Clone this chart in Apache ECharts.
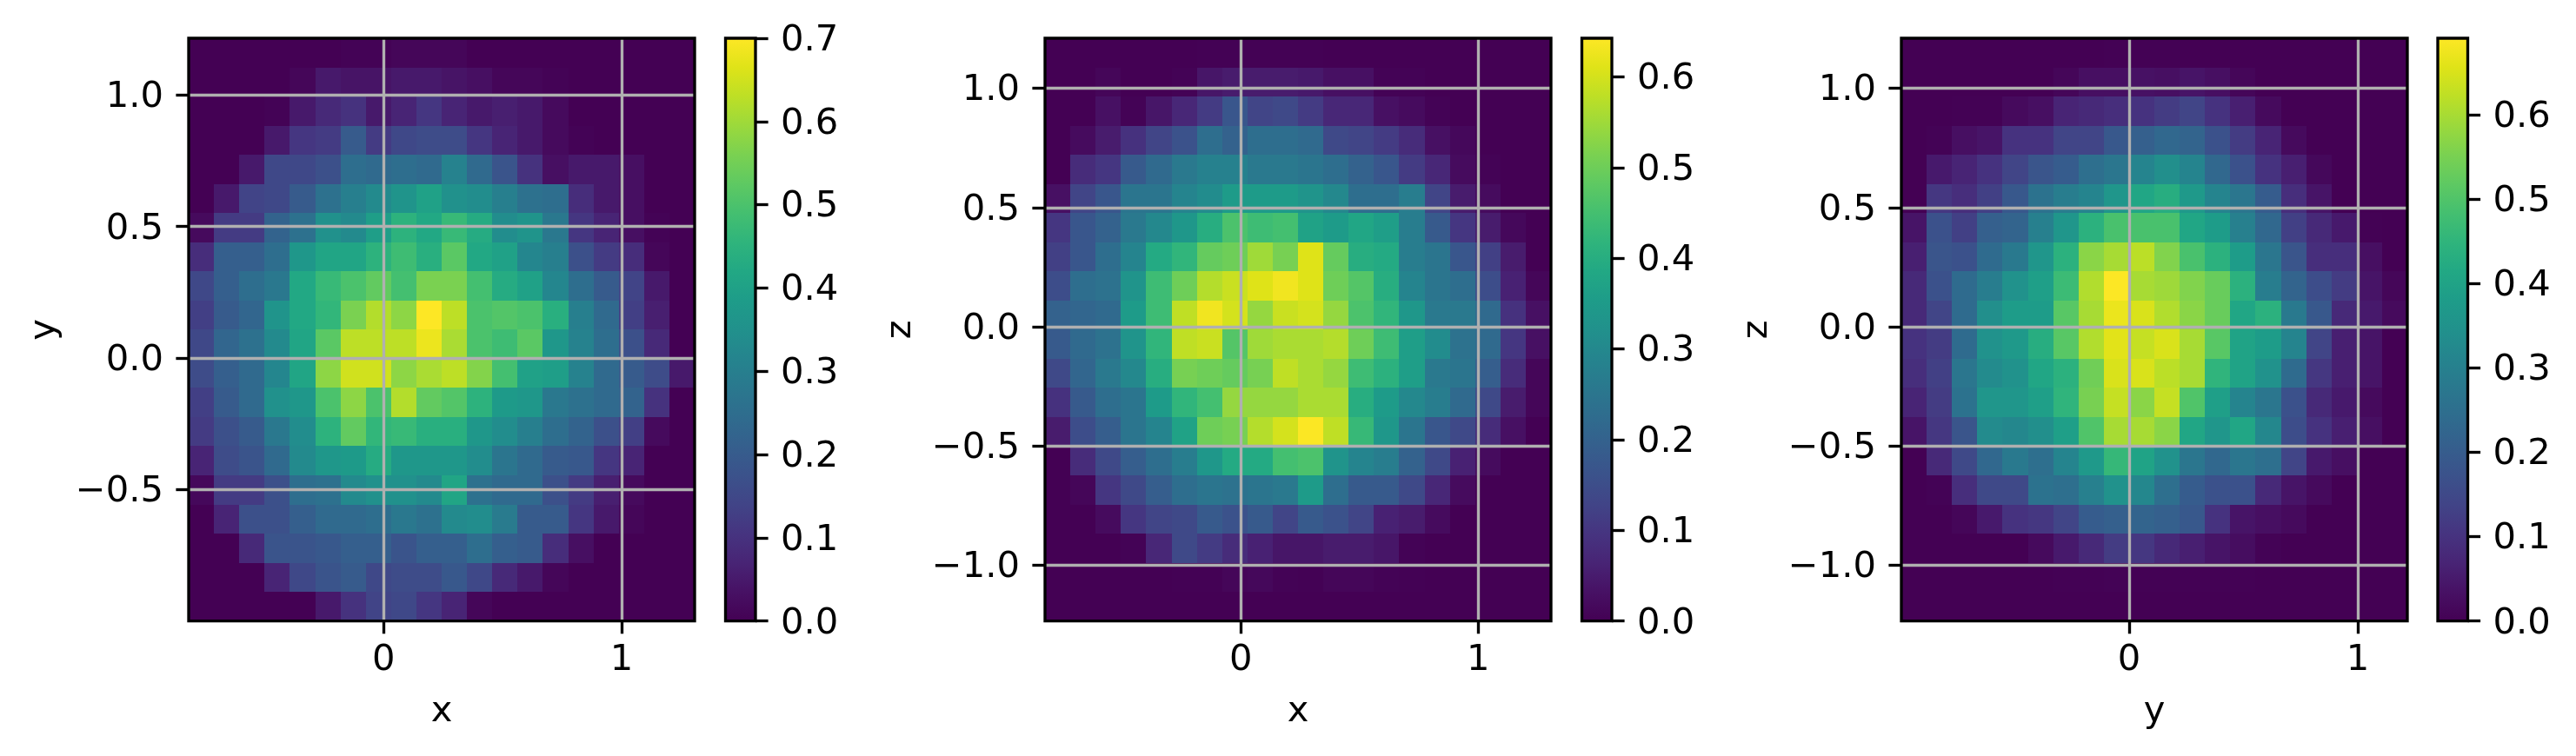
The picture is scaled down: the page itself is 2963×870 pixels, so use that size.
<!DOCTYPE html>
<html lang="en">
<head>
<meta charset="utf-8" />
<style>html,body{margin:0;padding:0;background:#fff}</style>
</head>
<body>
<div id="view1" style="width:2963px;height:870px"></div>
<script src="https://cdn.jsdelivr.net/npm/echarts@6/dist/echarts.min.js"></script>
<script>
// histogram cells, rows listed from the top of each panel to the bottom
var valuesXY = [
[0,0,0,0,0,0,.005,.005,.01,.01,.01,0,0,0,0,0,0,0,0,0],
[0,0,0,0,.01,.05,.04,.04,.05,.05,.04,.03,.01,.01,.005,0,0,0,0,0],
[0,0,0,.005,.05,.08,.10,.05,.07,.11,.07,.05,.06,.05,.02,0,0,0,0,0],
[0,0,0,.05,.11,.12,.20,.12,.15,.16,.16,.11,.07,.05,.02,.005,0,0,0,0],
[0,0,.05,.15,.15,.17,.25,.24,.25,.24,.31,.24,.18,.10,.03,.05,.05,.03,0,0],
[0,.05,.14,.15,.2,.26,.3,.33,.36,.4,.35,.34,.3,.26,.25,.09,.05,.03,0,0],
[.02,.12,.12,.22,.26,.35,.33,.39,.45,.42,.47,.43,.34,.36,.28,.11,.07,.03,.005,0],
[.09,.21,.21,.25,.37,.41,.41,.45,.48,.44,.52,.42,.4,.32,.3,.17,.12,.09,.01,0],
[.15,.21,.25,.28,.42,.47,.5,.53,.49,.56,.56,.49,.43,.4,.32,.25,.2,.14,.05,0],
[.13,.2,.23,.36,.42,.46,.56,.62,.58,.7,.63,.5,.51,.5,.44,.3,.24,.13,.06,0],
[.15,.23,.26,.33,.41,.52,.63,.63,.63,.68,.61,.5,.48,.52,.37,.31,.25,.17,.08,0],
[.16,.21,.24,.32,.41,.58,.65,.65,.58,.61,.63,.57,.49,.4,.39,.31,.24,.2,.16,.05],
[.13,.2,.24,.35,.37,.5,.58,.5,.62,.53,.51,.45,.38,.37,.28,.26,.24,.22,.1,0],
[.12,.17,.2,.28,.34,.45,.53,.46,.47,.44,.44,.37,.34,.3,.25,.22,.17,.13,.02,0],
[.07,.16,.18,.24,.33,.37,.38,.43,.37,.37,.37,.34,.27,.24,.2,.19,.11,.07,0,0],
[.015,.12,.12,.17,.25,.26,.33,.35,.35,.33,.41,.26,.24,.24,.17,.12,.06,.02,0,0],
[0,.07,.17,.17,.21,.24,.24,.25,.28,.26,.33,.34,.29,.2,.2,.11,.05,.01,0,0],
[0,0,.08,.18,.18,.19,.21,.21,.18,.21,.21,.25,.21,.2,.09,.03,0,0,0,0],
[0,0,0,.07,.15,.18,.2,.15,.16,.16,.19,.15,.08,.05,.01,0,0,0,0,0],
[0,0,0,0,0,.05,.1,.14,.15,.11,.07,.01,0,0,0,0,0,0,0,0]
];
var valuesXZ = [
[0,0,0,0,0,0,.002,.002,.003,.003,.003,0,0,0,0,0,0,0,0,0],
[0,0,.01,0,0,.005,.04,.05,.05,.05,.045,.03,.03,.005,.005,0,0,0,0,0],
[0,0,.03,.005,.04,.07,.11,.17,.13,.14,.11,.07,.07,.03,.02,.005,0,0,0,0],
[0,.02,.05,.09,.13,.16,.23,.2,.23,.23,.22,.14,.13,.11,.08,.03,.015,0,0,0],
[0,.08,.1,.18,.22,.26,.28,.28,.26,.26,.25,.23,.2,.17,.11,.07,.02,.005,0,0],
[.03,.13,.17,.25,.25,.29,.31,.35,.35,.35,.33,.3,.23,.23,.27,.13,.05,.02,0,0],
[.1,.17,.2,.26,.3,.34,.4,.46,.44,.45,.37,.35,.38,.36,.27,.18,.1,.05,.015,0],
[.12,.17,.23,.29,.39,.42,.49,.5,.55,.51,.61,.49,.4,.39,.27,.25,.17,.12,.05,0],
[.15,.23,.24,.33,.44,.5,.57,.59,.61,.63,.61,.5,.47,.4,.29,.25,.23,.15,.06,.01],
[.2,.21,.22,.35,.44,.58,.63,.6,.54,.59,.6,.54,.46,.42,.34,.26,.26,.22,.09,.03],
[.18,.22,.24,.33,.42,.58,.59,.47,.55,.56,.56,.57,.5,.44,.36,.31,.24,.22,.1,.03],
[.14,.21,.26,.3,.4,.51,.5,.49,.51,.58,.56,.54,.44,.41,.36,.26,.25,.19,.08,.01],
[.09,.18,.23,.25,.35,.42,.45,.54,.54,.54,.56,.56,.4,.35,.3,.27,.22,.14,.05,.01],
[.05,.15,.19,.25,.29,.37,.5,.51,.57,.6,.64,.58,.43,.34,.25,.17,.14,.08,.03,0],
[0,.08,.14,.19,.23,.27,.34,.39,.39,.45,.46,.33,.29,.27,.2,.14,.06,.02,0,0],
[0,.01,.1,.14,.19,.23,.25,.24,.25,.26,.35,.23,.18,.18,.14,.07,.02,0,0,0],
[0,0,.02,.1,.13,.14,.18,.16,.18,.13,.18,.16,.13,.06,.05,.02,0,0,0,0],
[0,0,0,.005,.07,.14,.11,.08,.06,.04,.04,.05,.05,.04,.005,0,0,0,0,0],
[0,0,0,0,0,.003,.003,.01,.015,.005,.002,.01,.01,.005,.003,0,0,0,0,0],
[0,0,0,0,0,0,0,0,0,0,0,0,0,0,0,0,0,0,0,0]
];
var valuesYZ = [
[0,0,0,0,0,0,0,0,.002,.002,.002,0,0,0,0,0,0,0,0,0],
[0,0,0,0,0,0,.01,.03,.03,.035,.03,.04,.03,.01,0,0,0,0,0,0],
[0,0,.003,.003,.02,.03,.07,.08,.09,.1,.12,.14,.1,.06,.02,0,0,0,0,0],
[0,.005,.03,.04,.1,.1,.14,.14,.19,.21,.23,.22,.17,.12,.07,.02,0,0,0,0],
[0,.05,.07,.1,.14,.18,.2,.25,.27,.31,.34,.31,.23,.17,.1,.06,.015,0,0,0],
[0,.11,.09,.13,.19,.26,.29,.31,.36,.41,.43,.37,.31,.27,.2,.09,.04,0,0,0],
[.04,.17,.13,.21,.22,.3,.36,.44,.49,.49,.49,.41,.38,.3,.23,.13,.08,.05,.002,0],
[.06,.18,.17,.24,.28,.36,.44,.57,.6,.62,.56,.49,.44,.38,.27,.18,.09,.09,.03,0],
[.08,.17,.24,.29,.35,.39,.47,.61,.69,.6,.59,.56,.53,.44,.29,.22,.16,.12,.04,.01],
[.08,.14,.24,.34,.38,.38,.51,.6,.67,.65,.61,.57,.53,.41,.44,.28,.19,.08,.05,.02],
[.1,.12,.24,.35,.37,.43,.51,.61,.66,.63,.65,.6,.51,.4,.38,.31,.14,.06,.04,0],
[.09,.13,.27,.33,.35,.41,.44,.54,.65,.65,.62,.6,.45,.4,.35,.24,.11,.06,.04,0],
[.07,.12,.26,.36,.36,.39,.45,.55,.63,.57,.63,.5,.39,.31,.27,.17,.08,.05,.02,0],
[.04,.11,.18,.33,.32,.34,.39,.5,.6,.6,.57,.41,.36,.41,.32,.16,.1,.06,.03,0],
[0,.08,.15,.23,.28,.25,.31,.37,.46,.4,.35,.27,.23,.27,.25,.14,.05,.03,0,0],
[0,.005,.09,.15,.15,.26,.25,.3,.35,.32,.25,.2,.17,.17,.08,.04,.02,0,0,0],
[0,0,.01,.05,.1,.11,.14,.2,.21,.22,.21,.19,.1,.04,.03,.02,0,0,0,0],
[0,0,0,0,0,.02,.05,.08,.12,.11,.08,.06,.04,.025,.005,0,0,0,0,0],
[0,0,0,0,0,0,.003,.002,.004,.002,.002,.002,.002,.002,0,0,0,0,0,0],
[0,0,0,0,0,0,0,0,0,0,0,0,0,0,0,0,0,0,0,0]
];

var xLimits = [[-0.82, 1.307], [-0.825, 1.307], [-0.997, 1.217]];
var yLimits = [[-1.0, 1.216], [-1.234, 1.21], [-1.234, 1.21]];
var xNames = ["x", "x", "y"];
var yNames = ["y", "z", "z"];
var xTicks = [[0, 1], [0, 1], [0, 1]];
var yTicks = [[-0.5, 0, 0.5, 1], [-1, -0.5, 0, 0.5, 1], [-1, -0.5, 0, 0.5, 1]];
var barMax = [0.7, 0.6425, 0.691];
var barTicks = [
    [0, 0.1, 0.2, 0.3, 0.4, 0.5, 0.6, 0.7],
    [0, 0.1, 0.2, 0.3, 0.4, 0.5, 0.6],
    [0, 0.1, 0.2, 0.3, 0.4, 0.5, 0.6]
];
var viridis = ["#440154", "#471164", "#482475", "#463480", "#414487", "#3b528b", "#355f8d",
    "#2f6c8e", "#2a788e", "#25848e", "#21918c", "#1e9c89", "#22a884", "#2fb47c", "#44bf70",
    "#5ec962", "#7ad151", "#9bd93c", "#bddf26", "#dfe318", "#fde725"];

var FONT = "DejaVu Sans", FS = 41.67;
var panelLeft = [217, 1202, 2187], barLeft = [834.5, 1819.5, 2804];
var TOP = 44, H = 670.7, W = 582, BW = 34.5;

function minusFmt(dec){
    return function(v){ return Number(v).toFixed(dec).replace("-", "\u2212"); };
}

// one rectangle per histogram cell, edges go through the axis scales
function renderCell(params, api){
    var a = api.coord([api.value(0), api.value(1)]), b = api.coord([api.value(2), api.value(3)]);
    var x0 = Math.round(a[0]), y0 = Math.round(a[1]), x1 = Math.round(b[0]), y1 = Math.round(b[1]);
    return {
        type: "rect",
        shape: {x: x0, y: y0, width: x1 - x0, height: y1 - y0},
        style: {fill: api.visual("color")}
    };
}

function cellData(rows, xl, yl){
    var out = [], nr = rows.length, dy = (yl[1] - yl[0]) / nr;
    rows.forEach(function(row, r){
        var dx = (xl[1] - xl[0]) / row.length;
        row.forEach(function(v, c){
            out.push([xl[0] + c * dx, yl[1] - r * dy, xl[0] + (c + 1) * dx, yl[1] - (r + 1) * dy, v]);
        });
    });
    return out;
}

var barStops = viridis.map(function(c, i){ return {offset: i / (viridis.length - 1), color: c}; });

function renderBar(params, api){
    var a = api.coord([0, api.value(0)]), b = api.coord([1, api.value(1)]);
    return {
        type: "rect",
        shape: {x: a[0], y: b[1], width: b[0] - a[0], height: a[1] - b[1]},
        style: {fill: new echarts.graphic.LinearGradient(0, 1, 0, 0, barStops)}
    };
}

var grids = [], xAxes = [], yAxes = [], series = [], maps = [];
var allRows = [valuesXY, valuesXZ, valuesYZ];
var tickStyle = {show: true, length: 14.6, lineStyle: {color: "#000", width: 3.33}};
var labelStyle = {fontFamily: FONT, fontSize: FS, color: "#000"};
var noLine = {show: false, onZero: false};
// y labels sit a little low against their tick, as in the picture
var sideLabel = {margin: 29, verticalAlign: "top", lineHeight: 6};

allRows.forEach(function(rows, i){
    var g = grids.length;
    grids.push({left: panelLeft[i], top: TOP, width: W, height: H, show: true, z: 10,
        backgroundColor: "transparent", borderColor: "#000", borderWidth: 3.33});
    xAxes.push({
        type: "value", gridIndex: g, min: xLimits[i][0], max: xLimits[i][1], z: 5,
        name: xNames[i], nameLocation: "middle", nameGap: 83,
        nameTextStyle: labelStyle,
        axisLine: noLine,
        axisTick: Object.assign({customValues: xTicks[i]}, tickStyle),
        axisLabel: Object.assign({margin: 24, customValues: xTicks[i], formatter: minusFmt(0)}, labelStyle),
        splitLine: {show: true, lineStyle: {color: "#b0b0b0", width: 3.33}}
    });
    yAxes.push({
        type: "value", gridIndex: g, min: yLimits[i][0], max: yLimits[i][1], z: 5,
        name: yNames[i], nameLocation: "middle", nameGap: 145, nameRotate: 90,
        nameTextStyle: labelStyle,
        axisLine: noLine,
        axisTick: Object.assign({customValues: yTicks[i]}, tickStyle),
        axisLabel: Object.assign({customValues: yTicks[i], formatter: minusFmt(1)}, sideLabel, labelStyle),
        splitLine: {show: true, lineStyle: {color: "#b0b0b0", width: 3.33}}
    });
    maps.push({show: false, type: "continuous", seriesIndex: series.length, dimension: 4,
        min: 0, max: barMax[i], inRange: {color: viridis}});
    series.push({
        type: "custom", coordinateSystem: "cartesian2d", xAxisIndex: g, yAxisIndex: g, z: 1,
        clip: true, silent: true, renderItem: renderCell,
        encode: {x: [0, 2], y: [1, 3]},
        data: cellData(rows, xLimits[i], yLimits[i])
    });

    // colorbar
    var cb = grids.length;
    grids.push({left: barLeft[i], top: TOP, width: BW, height: H, show: true, z: 10,
        backgroundColor: "transparent", borderColor: "#000", borderWidth: 3.33});
    xAxes.push({type: "value", gridIndex: cb, min: 0, max: 1, show: false});
    yAxes.push({
        type: "value", gridIndex: cb, position: "right", min: 0, max: barMax[i], z: 5,
        axisLine: noLine,
        axisTick: Object.assign({customValues: barTicks[i]}, tickStyle),
        axisLabel: Object.assign({customValues: barTicks[i], formatter: minusFmt(1)}, sideLabel, labelStyle),
        splitLine: {show: false}
    });
    series.push({
        type: "custom", coordinateSystem: "cartesian2d", xAxisIndex: cb, yAxisIndex: cb, z: 1,
        silent: true, renderItem: renderBar,
        encode: {y: [0, 1]},
        data: [[0, barMax[i]]]
    });
});

var myChart = echarts.init(document.getElementById("view1"), null, {renderer: "canvas"});
myChart.setOption({
    animation: false,
    backgroundColor: "#fff",
    textStyle: {fontFamily: FONT},
    grid: grids,
    xAxis: xAxes,
    yAxis: yAxes,
    visualMap: maps,
    series: series
});
</script>
</body>
</html>
